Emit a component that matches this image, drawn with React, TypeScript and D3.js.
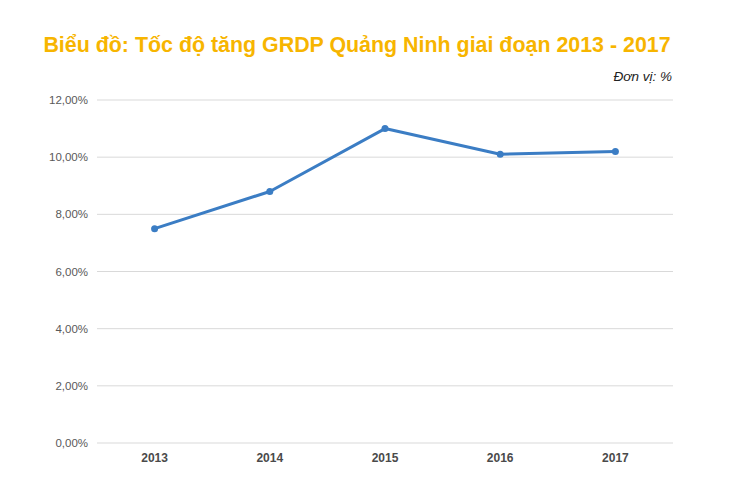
import { useEffect, useRef } from 'react'
import * as d3 from 'd3'

const years = ['2013', '2014', '2015', '2016', '2017']
const growth = [7.5, 8.8, 11.0, 10.1, 10.2]
const yTicks = [0, 2, 4, 6, 8, 10, 12]

const title = 'Biểu đồ: Tốc độ tăng GRDP Quảng Ninh giai đoạn 2013 - 2017'
const unitLabel = 'Đơn vị: %'

export default function App() {
  const ref = useRef<SVGSVGElement | null>(null)
  const svgWidth = 730
  const svgHeight = 486

  useEffect(() => {
    const svg = d3.select(ref.current)
    svg.selectAll('*').remove()

    const margin = { top: 100, right: 57, bottom: 43, left: 97 }
    const width = svgWidth - margin.left - margin.right
    const height = svgHeight - margin.top - margin.bottom

    svg
      .append('text')
      .attr('x', 357)
      .attr('y', 52)
      .attr('text-anchor', 'middle')
      .attr('font-family', 'Liberation Sans, Arial, sans-serif')
      .attr('font-weight', 'bold')
      .attr('font-size', 21.4)
      .attr('fill', '#f7b500')
      .text(title)

    svg
      .append('text')
      .attr('x', 672)
      .attr('y', 81)
      .attr('text-anchor', 'end')
      .attr('font-family', 'Liberation Sans, Arial, sans-serif')
      .attr('font-style', 'italic')
      .attr('font-size', 13.5)
      .attr('fill', '#222')
      .text(unitLabel)

    const chart = svg
      .append('g')
      .attr('transform', `translate(${margin.left},${margin.top})`)

    const xScale = d3.scaleBand().domain(years).range([0, width])
    const yScale = d3.scaleLinear().domain([0, 12]).range([height, 0])

    // gridlines
    chart
      .selectAll('.grid')
      .data(yTicks)
      .enter()
      .append('line')
      .attr('x1', 0)
      .attr('x2', width)
      .attr('y1', (d) => yScale(d))
      .attr('y2', (d) => yScale(d))
      .attr('stroke', '#d9d9d9')
      .attr('stroke-width', 1)

    // y labels
    chart
      .selectAll('.ylab')
      .data(yTicks)
      .enter()
      .append('text')
      .attr('x', -9)
      .attr('y', (d) => yScale(d))
      .attr('dy', '0.35em')
      .attr('text-anchor', 'end')
      .attr('font-family', 'Liberation Sans, Arial, sans-serif')
      .attr('font-size', 11.5)
      .attr('fill', '#595959')
      .text((d) => d.toFixed(2).replace('.', ',') + '%')

    // x labels
    chart
      .selectAll('.xlab')
      .data(years)
      .enter()
      .append('text')
      .attr('x', (d) => xScale(d)! + xScale.bandwidth() / 2)
      .attr('y', height + 19)
      .attr('text-anchor', 'middle')
      .attr('font-family', 'Liberation Sans, Arial, sans-serif')
      .attr('font-weight', 'bold')
      .attr('font-size', 12)
      .attr('fill', '#4a4a4a')
      .text((d) => d)

    const points = years.map((y, i) => ({ year: y, value: growth[i] }))

    const line = d3
      .line<{ year: string; value: number }>()
      .x((d) => xScale(d.year)! + xScale.bandwidth() / 2)
      .y((d) => yScale(d.value))

    chart
      .append('path')
      .datum(points)
      .attr('d', line)
      .attr('fill', 'none')
      .attr('stroke', '#3b7dc4')
      .attr('stroke-width', 3)
      .attr('stroke-linejoin', 'round')

    chart
      .selectAll('.dot')
      .data(points)
      .enter()
      .append('circle')
      .attr('cx', (d) => xScale(d.year)! + xScale.bandwidth() / 2)
      .attr('cy', (d) => yScale(d.value))
      .attr('r', 3.5)
      .attr('fill', '#3b7dc4')
  }, [])

  return (
    <svg
      width={svgWidth}
      height={svgHeight}
      ref={ref}
      style={{ position: 'absolute', left: 0, top: 0, background: '#fff' }}
    />
  )
}
